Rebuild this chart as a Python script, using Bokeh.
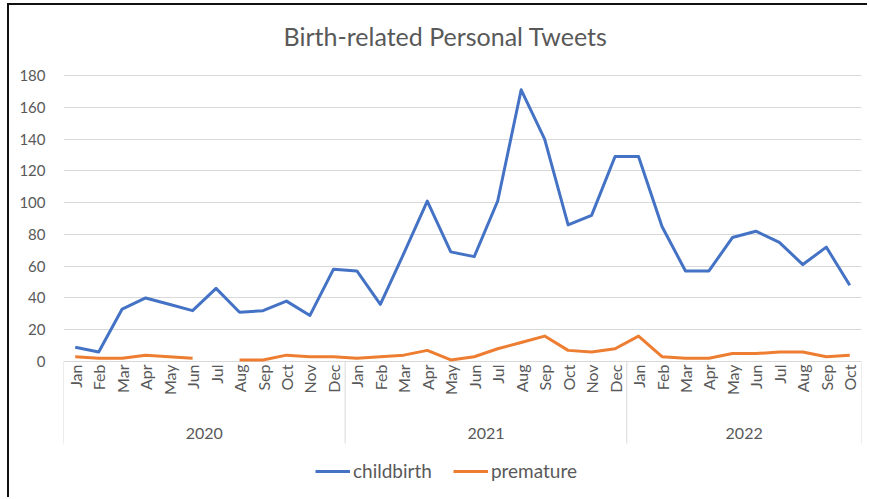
import numpy as np
from bokeh.plotting import figure
from bokeh.models import Range1d, FixedTicker, Legend, LegendItem, Label
from bokeh.embed import file_html
from bokeh.resources import INLINE
from bokeh.core.properties import value

# ---------------- data ----------------
years = ["2020", "2021", "2022"]
months_per_year = [12, 12, 10]
month_names = ["Jan", "Feb", "Mar", "Apr", "May", "Jun",
               "Jul", "Aug", "Sep", "Oct", "Nov", "Dec"]
months = month_names + month_names + month_names[:10]

childbirth = [9, 6, 33, 40, 36, 32, 46, 31, 32, 38, 29, 58,
              57, 36, 68, 101, 69, 66, 101, 171, 140, 86, 92, 129,
              129, 85, 57, 57, 78, 82, 75, 61, 72, 48]
premature = [3, 2, 2, 4, 3, 2, np.nan, 1, 1, 4, 3, 3,
             2, 3, 4, 7, 1, 3, 8, 12, 16, 7, 6, 8,
             16, 3, 2, 2, 5, 5, 6, 6, 3, 4]
y_ticks = [0, 20, 40, 60, 80, 100, 120, 140, 160, 180]
title_text = "Birth-related Personal Tweets"

# ---------------- layout ----------------
GRAY_TXT = "#595959"
GRID = "#D9D9D9"
FONT = "Lato"

n = len(months)
xs = list(range(n))

W, H = 860, 494
top_space = 70                      # pixels above the 180 gridline
plot_px = 286.0                     # pixels from 0 to 180
px_per_unit = plot_px / y_ticks[-1]
y_top = y_ticks[-1] + top_space / px_per_unit
y_bottom = y_ticks[-1] - (H - top_space) / px_per_unit
sep_len_units = 82 / px_per_unit

p = figure(width=W, height=H, output_backend="svg", toolbar_location=None,
           x_axis_type=None,
           x_range=Range1d(-0.5, n - 0.5),
           y_range=Range1d(y_bottom, y_top),
           min_border_left=54, min_border_right=8,
           min_border_top=0, min_border_bottom=0,
           outline_line_color=None,
           styles={"margin-left": "7px", "margin-top": "3px",
                   "border-left": "2px solid #111", "border-top": "2px solid #111"})

# title (screen units relative to the plot frame, y measured from its bottom)
p.add_layout(Label(x=220, y=H - 30, x_units="screen", y_units="screen",
                   text=title_text, text_align="left", text_baseline="alphabetic",
                   text_font=FONT, text_font_size="25px", text_color=GRAY_TXT))

yax = p.yaxis[0]
yax.ticker = FixedTicker(ticks=y_ticks)
yax.axis_line_color = None
yax.major_tick_line_color = None
yax.minor_tick_line_color = None
yax.major_label_standoff = 12
yax.major_label_text_font = FONT
yax.major_label_text_font_size = "15px"
yax.major_label_text_color = GRAY_TXT

p.ygrid.ticker = FixedTicker(ticks=y_ticks)
p.ygrid.grid_line_color = GRID
p.ygrid.grid_line_width = 1

# category separators
bounds = [-0.5]
for m in months_per_year:
    bounds.append(bounds[-1] + m)
p.segment(x0=bounds, y0=[0] * len(bounds), x1=bounds,
          y1=[-sep_len_units] * len(bounds), line_color=GRID, line_width=1)

# month labels
p.text(x=xs, y=[0] * n, text=months, angle=np.pi / 2,
       text_align="right", text_baseline="middle", y_offset=3,
       text_font=value(FONT), text_font_size="16px", text_color=GRAY_TXT)

# year labels
centers = [(bounds[i] + bounds[i + 1]) / 2 for i in range(len(years))]
p.text(x=centers, y=[0] * len(years), text=years, y_offset=72,
       text_align="center", text_baseline="middle",
       text_font=value(FONT), text_font_size="16px", text_color=GRAY_TXT)

# series
r1 = p.line(xs, childbirth, line_color="#4472C4", line_width=3, line_join="round")
r2 = p.line(xs, premature, line_color="#ED7D31", line_width=3, line_join="round")

legend = Legend(items=[LegendItem(label="childbirth", renderers=[r1]),
                       LegendItem(label="premature", renderers=[r2])],
                orientation="horizontal", location=(252, 17),
                padding=0, margin=0, spacing=21,
                glyph_width=35, glyph_height=20, label_standoff=3,
                border_line_alpha=0, background_fill_alpha=0,
                label_text_font=FONT, label_text_font_size="19px",
                label_text_color=GRAY_TXT)
p.add_layout(legend)

open("out.html", "w").write(file_html(p, INLINE))
